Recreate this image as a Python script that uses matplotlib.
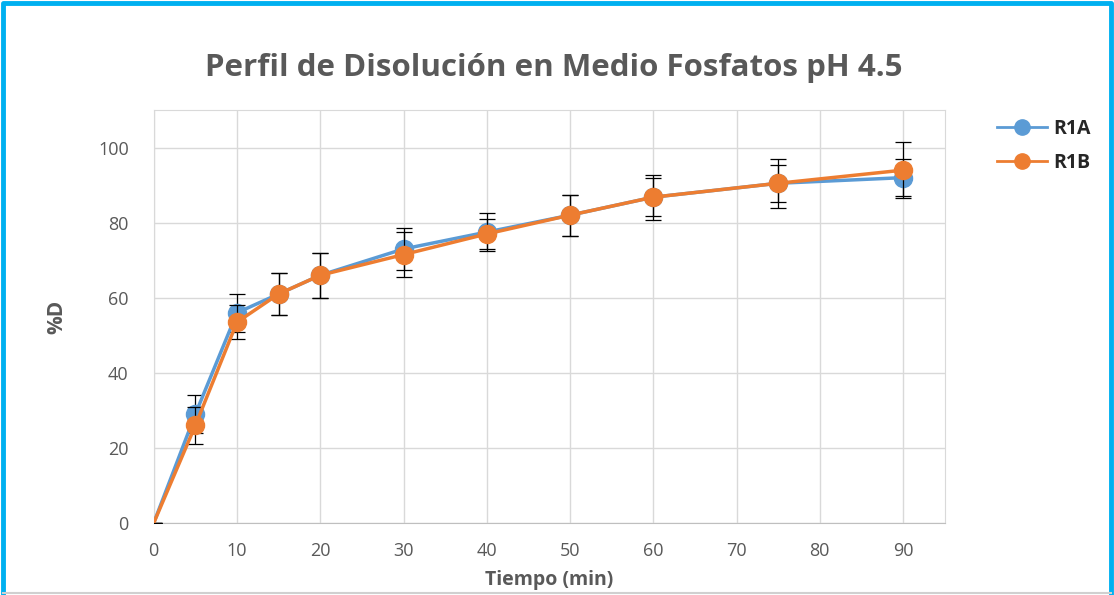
import matplotlib.pyplot as plt
from matplotlib.lines import Line2D
import numpy as np

# Perfil de disolución, medio fosfatos pH 4.5
tiempo = [0, 5, 10, 15, 20, 30, 40, 50, 60, 75, 90]
r1a = [0, 29, 56, 61, 66, 73, 77.5, 82, 86.8, 90.5, 92]
r1a_err = [0, 5, 5, 5.5, 6, 5.5, 5, 5.5, 6, 6.5, 5]
r1b = [0, 26, 53.5, 61, 66, 71.5, 77, 82, 86.8, 90.5, 94]
r1b_err = [0, 5, 4.5, 5.5, 6, 6, 4, 5.5, 5, 5, 7.5]

plt.rcParams['font.family'] = ['Open Sans', 'DejaVu Sans']
gris = '#595959'

fig = plt.figure(figsize=(11.14, 5.95), dpi=100)
ax = fig.add_axes([0.138, 0.121, 0.710, 0.694])

# el punto inicial (0, 0) va sin marcador
handles = []
for y, e, c, nombre, z in [(r1a, r1a_err, '#5B9BD5', 'R1A', 3),
                            (r1b, r1b_err, '#ED7D31', 'R1B', 4)]:
    cont = ax.errorbar(tiempo, y, yerr=e, color=c, marker='o', markersize=13,
                       markevery=list(range(1, len(tiempo))), linewidth=2.5,
                       ecolor='black', elinewidth=0.9, capsize=6, capthick=0.9,
                       zorder=z)
    handles.append(Line2D([], [], color=c, marker='o', markersize=11,
                          linewidth=2, label=nombre))

ax.set_xlim(0, 95)
ax.set_ylim(0, 110)
ax.set_xticks(np.arange(0, 91, 10))
ax.set_yticks(np.arange(0, 101, 20))
ax.grid(True, color='#D9D9D9', linewidth=1)
ax.set_axisbelow(True)
ax.tick_params(length=0, labelsize=13, labelcolor=gris)
ax.tick_params(axis='x', pad=14)
ax.tick_params(axis='y', pad=18)
for s in ax.spines.values():
    s.set_color('#D9D9D9')
ax.spines['bottom'].set_color('#BFBFBF')

ax.set_xlabel('Tiempo (min)', fontsize=14, fontweight='bold', color=gris, labelpad=7)
ax.set_ylabel('%D', fontsize=15, fontweight='bold', color=gris, labelpad=22)
fig.text(0.497, 0.885, 'Perfil de Disolución en Medio Fosfatos pH 4.5',
         ha='center', va='center', fontsize=22.5, fontweight='bold', color=gris)

leg = fig.legend(handles=handles, loc='upper left', bbox_to_anchor=(0.879, 0.83),
                 frameon=False, fontsize=14, handlelength=2.6, labelspacing=0.75,
                 handletextpad=0.3)
for t in leg.get_texts():
    t.set_fontweight('bold')
    t.set_color('#262626')

# marco de la figura: azul arriba y a los lados, gris abajo
fig.add_artist(Line2D([0.003, 0.003, 0.997, 0.997], [0.004, 0.995, 0.995, 0.004],
                      transform=fig.transFigure, color='#00B0F0', linewidth=3.5))
fig.add_artist(Line2D([0.003, 0.997], [0.004, 0.004], transform=fig.transFigure,
                      color='#D0D0D0', linewidth=1.5))

fig.savefig('out.png', dpi=100)
